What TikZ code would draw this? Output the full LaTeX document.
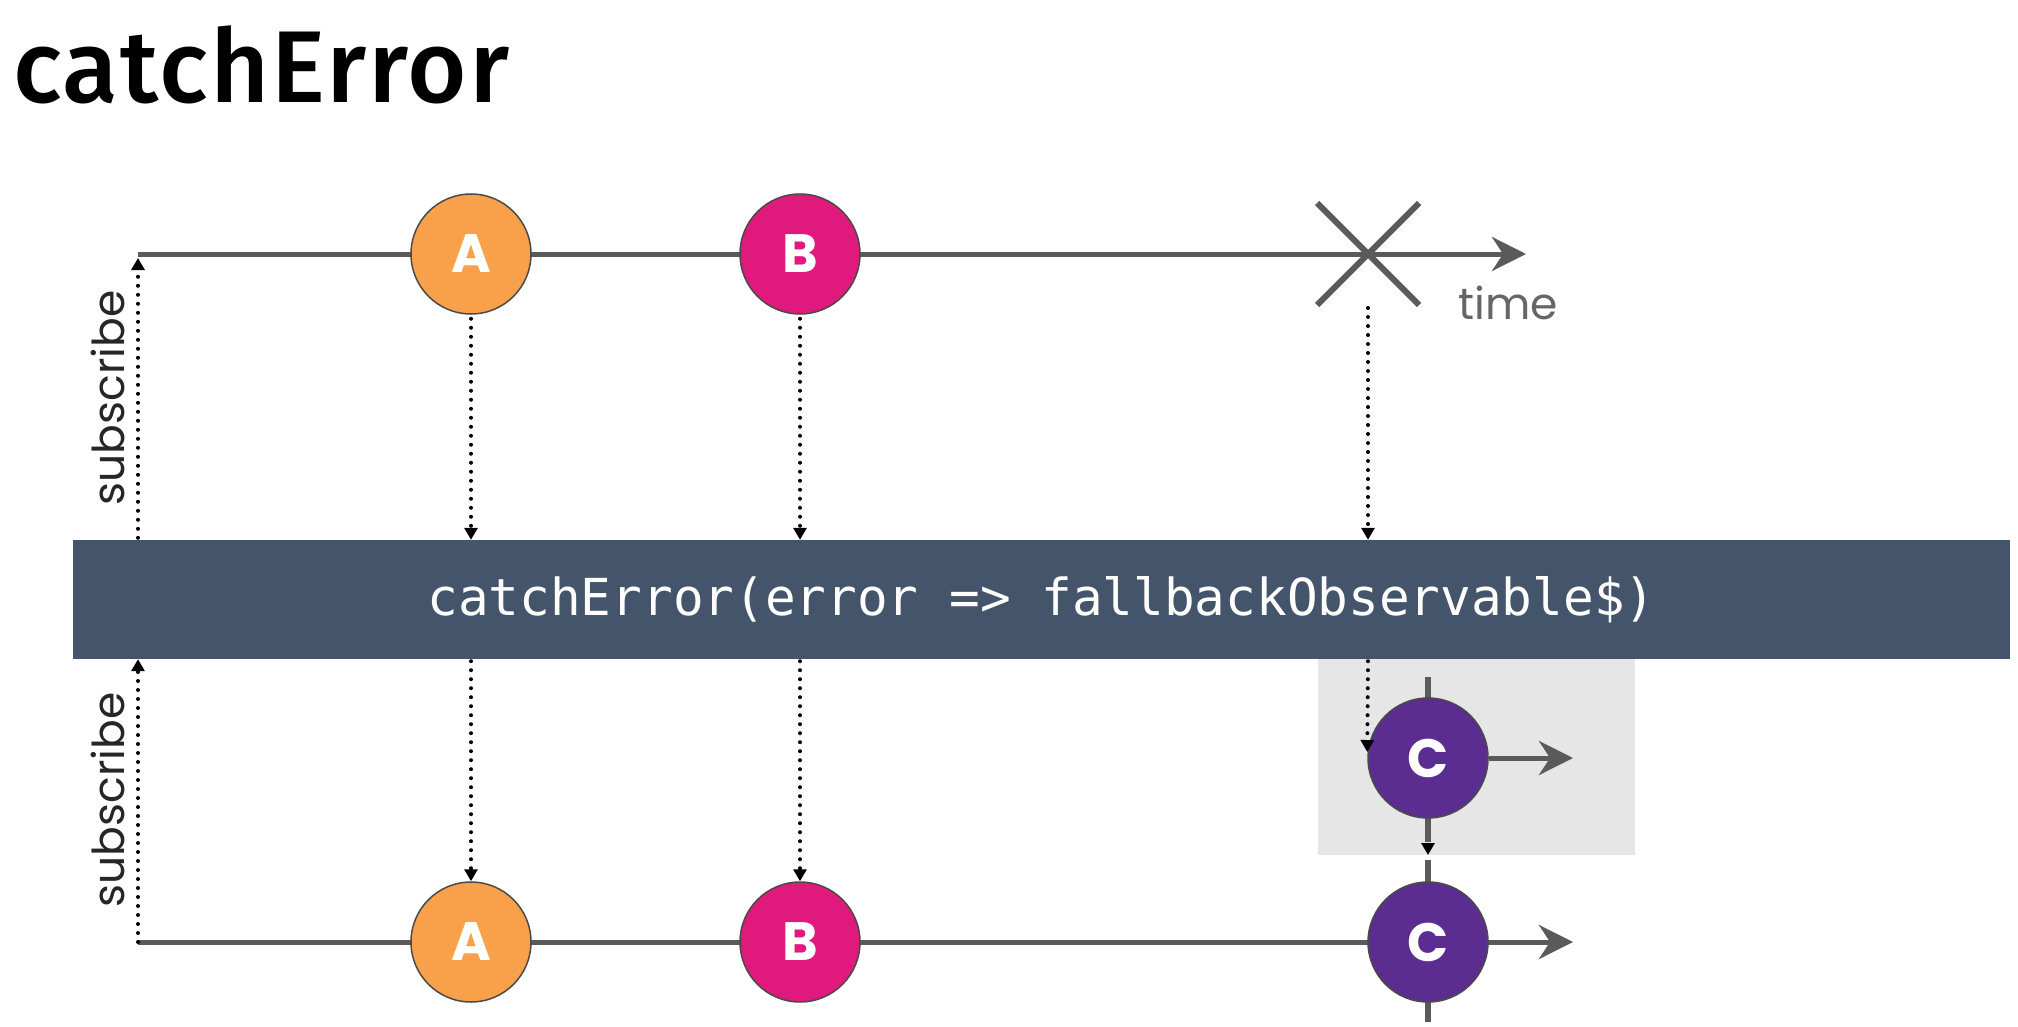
\documentclass[tikz,border=0pt]{standalone}
\usepackage{fontspec}
\setmainfont{Poppins}
\newfontfamily\titlefont[LetterSpace=2]{Fira Sans Medium}
\newfontfamily\codefont{DejaVu Sans Mono}
\usetikzlibrary{arrows.meta}
\definecolor{linegray}{HTML}{5A5A5A}
\definecolor{circedge}{HTML}{4A4A4A}
\definecolor{colA}{HTML}{F9A04A}
\definecolor{colB}{HTML}{E0197D}
\definecolor{colC}{HTML}{5C2D91}
\definecolor{barcol}{HTML}{44546A}
\definecolor{boxgray}{HTML}{E6E6E6}
\definecolor{timegray}{HTML}{666666}
\begin{document}
\begin{tikzpicture}[x=1pt,y=-1pt,
  tl/.style={draw=linegray,line width=5pt,-{Stealth[length=34pt,width=34pt,inset=11pt]}},
  tick/.style={draw=linegray,line width=6pt},
  xmark/.style={draw=linegray,line width=6pt},
  ev/.style={circle,minimum size=120pt,inner sep=0pt,draw=circedge,line width=1.5pt,text=white,font=\bfseries\fontsize{54}{54}\selectfont},
  dotarrow/.style={draw=black,line width=4pt,line cap=round,dash pattern=on 0pt off 9pt,-{Triangle[length=12pt,width=13pt]}},
  subl/.style={rotate=90,font=\fontsize{44}{44}\selectfont,text=black!85,inner sep=0pt},
  opbar/.style={fill=barcol,text=white,inner sep=0pt,minimum width=1937pt,minimum height=119pt,font=\codefont\fontsize{51}{51}\selectfont},
  fbbox/.style={fill=boxgray,inner sep=0pt,minimum width=317pt,minimum height=196pt}
]
\useasboundingbox[fill=white] (0,0) rectangle (2018,1027);

% title
\node[anchor=base west,inner sep=0pt,font=\titlefont\fontsize{102}{102}\selectfont] (title) at (13,103) {catchError};

% coordinates
\coordinate (s1) at (138,254);
\coordinate (e1) at (1526,254);
\coordinate (s2) at (138,942);
\coordinate (e2) at (1573,942);
\coordinate (xe) at (1368,254);

% top timeline
\draw[tl] (s1) -- (e1);
\draw[xmark] ([shift={(-51,-51)}]xe) -- ([shift={(51,51)}]xe);
\draw[xmark] ([shift={(-51,51)}]xe) -- ([shift={(51,-51)}]xe);
\node[anchor=base west,inner sep=0pt,text=timegray,font=\fontsize{44}{44}\selectfont] (time) at (1458,319) {time};

\node[ev,fill=colA] (a1) at (471,254) {A};
\node[ev,fill=colB] (b1) at (800,254) {B};

% operator bar
\node[opbar] (op) at (1041.5,599.5) {catchError(error => fallbackObservable\$)};

% fallback box
\node[fbbox] (fb) at (1476.5,757) {};

% bottom timeline
\draw[tl] (s2) -- (e2);
\node[ev,fill=colA] (a2) at (471,942) {A};
\node[ev,fill=colB] (b2) at (800,942) {B};

% fallback observable
\coordinate (c1top) at (1428,677);
\coordinate (c1out) at (1573,758);
\coordinate (c2bot) at (1428,1022);
\coordinate (c1tip) at (1428,855);
\coordinate (c2gap) at (1428,860);
\draw[tick] (c1top) -- (1428,730);
\draw[dotarrow] (1428,800) -- (c1tip);
\draw[tick] (1428,790) -- (1428,842);
\draw[tick] (c2gap) -- (1428,900);
\draw[tick] (1428,980) -- (c2bot);
\node[ev,fill=colC] (c1) at (1428,758) {C};
\node[ev,fill=colC] (c2) at (1428,942) {C};
\draw[tl] (c1.east) -- (c1out);

% dotted arrows
\draw[dotarrow] ([yshift=-4pt]a1.south) -- (a1 |- op.north);
\draw[dotarrow] ([yshift=-4pt]b1.south) -- (b1 |- op.north);
\draw[dotarrow] ([yshift=-54pt]xe) -- (xe |- op.north);
\draw[dotarrow] ([yshift=-2pt]a2 |- op.south) -- (a2.north);
\draw[dotarrow] ([yshift=-2pt]b2 |- op.south) -- (b2.north);
\draw[dotarrow] ([yshift=-2pt]xe |- op.south) -- ([yshift=6pt]c1.west);

% subscribe arrows
\draw[dotarrow] ([yshift=2pt]op.north -| s1) -- ([yshift=-4pt]s1);
\draw[dotarrow] (s2) -- (op.south -| s2);
\node[subl] (sub1) at (108,398) {subscribe};
\node[subl] (sub2) at (108,800) {subscribe};
\end{tikzpicture}
\end{document}
